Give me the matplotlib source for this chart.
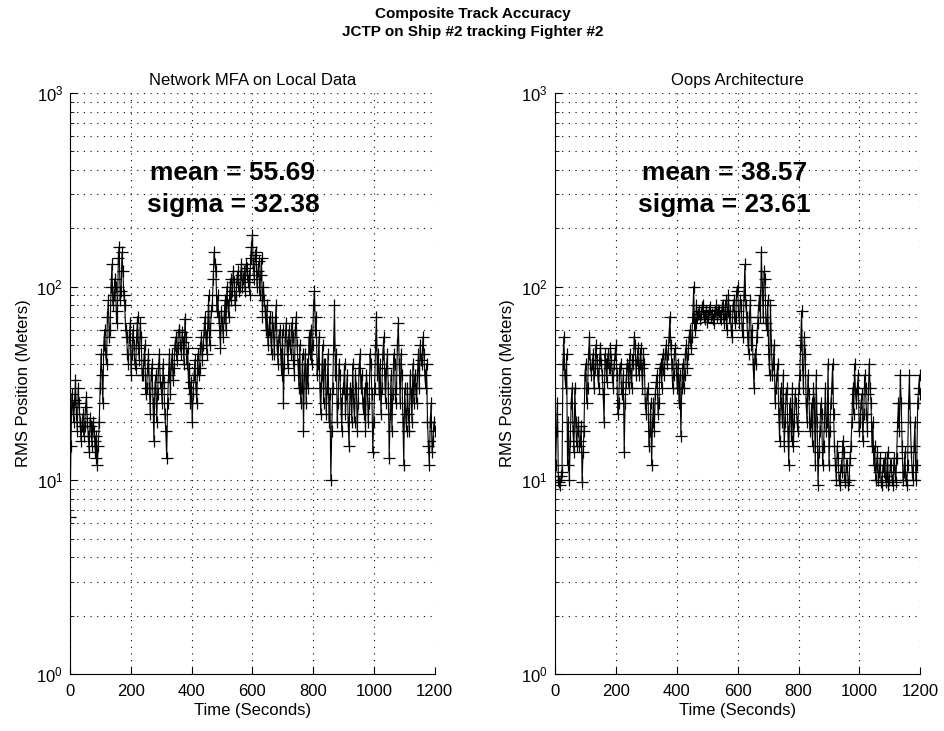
#!/usr/bin/env python3

from matplotlib import pyplot as pl
from matplotlib.ticker import LogLocator

import numpy as np

pl.rcParams['font.family'] = ['Liberation Sans', 'DejaVu Sans']
pl.rcParams['mathtext.fontset'] = 'custom'
pl.rcParams['mathtext.rm'] = 'Liberation Sans'
pl.rcParams['mathtext.default'] = 'regular'

time = np.arange(0, 1201, 3)

# RMS position error, network MFA on local data (one row = 60 s)
mfa = [
    6.5, 15, 28, 24, 20, 26, 33, 22, 18, 30, 25, 20, 16, 19, 22, 17, 19, 24, 27, 20,
    17, 14, 21, 19, 15, 20, 18, 16, 13, 17, 12, 15, 20, 30, 45, 35, 25, 50, 60, 45,
    40, 70, 85, 55, 60, 100, 130, 80, 90, 110, 100, 65, 75, 140, 160, 85, 95, 150, 120, 90,
    80, 60, 55, 45, 40, 55, 65, 35, 45, 60, 50, 40, 38, 55, 70, 48, 42, 65, 55, 35,
    35, 42, 50, 28, 30, 38, 45, 30, 22, 35, 40, 25, 16, 30, 35, 20, 28, 38, 45, 32,
    30, 25, 40, 32, 22, 18, 13, 25, 35, 45, 28, 40, 45, 33, 38, 50, 55, 42, 48, 60,
    60, 50, 45, 58, 52, 40, 68, 55, 40, 48, 30, 38, 25, 32, 20, 28, 35, 42, 30, 25,
    45, 35, 38, 48, 55, 42, 50, 60, 70, 55, 45, 65, 90, 50, 60, 75, 80, 110, 150, 130,
    120, 75, 90, 70, 60, 48, 75, 65, 55, 70, 85, 60, 100, 80, 70, 90, 110, 85, 95, 120,
    105, 80, 90, 110, 120, 95, 100, 115, 130, 100, 110, 120, 95, 130, 125, 105, 115, 90, 140, 160,
    185, 130, 110, 145, 150, 100, 120, 135, 90, 115, 140, 70, 100, 85, 75, 60, 80, 50, 60, 70,
    55, 45, 70, 60, 45, 65, 80, 50, 40, 55, 60, 45, 35, 60, 25, 40, 55, 65, 50, 38,
    60, 50, 45, 65, 55, 42, 35, 60, 70, 50, 40, 30, 50, 25, 30, 45, 18, 35, 45, 25,
    40, 30, 55, 45, 60, 40, 50, 80, 95, 60, 70, 35, 40, 55, 30, 22, 35, 50, 25, 40,
    40, 22, 30, 45, 20, 28, 10, 18, 30, 50, 80, 35, 45, 20, 25, 40, 35, 25, 18, 30,
    30, 40, 22, 28, 35, 20, 15, 30, 28, 20, 40, 25, 20, 35, 30, 18, 25, 38, 45, 30,
    35, 25, 22, 30, 18, 35, 30, 20, 25, 45, 40, 28, 14, 20, 30, 50, 70, 35, 45, 28,
    40, 22, 30, 45, 55, 35, 25, 38, 45, 30, 13, 22, 35, 18, 28, 45, 40, 25, 30, 50,
    65, 40, 25, 45, 35, 20, 12, 30, 22, 18, 30, 22, 18, 35, 28, 20, 40, 25, 35, 30,
    25, 35, 45, 30, 50, 42, 40, 55, 45, 35, 30, 40, 20, 15, 12, 20, 25, 14, 16, 20,
    18,
]

# RMS position error, oops architecture (one row = 60 s)
oops = [
    22, 12, 18, 25, 10, 9.8, 9.5, 10.5, 11, 40, 55, 35, 30, 45, 12, 20, 10, 16, 25, 30,
    18, 14, 30, 20, 15, 18, 20, 15, 16, 19, 9.8, 14, 18, 35, 40, 25, 30, 45, 55, 40,
    35, 40, 45, 30, 38, 50, 42, 35, 30, 42, 48, 40, 35, 28, 20, 45, 40, 32, 45, 38,
    38, 48, 42, 35, 30, 40, 45, 50, 35, 22, 25, 38, 40, 30, 28, 35, 14, 25, 32, 40,
    38, 30, 45, 35, 30, 42, 40, 55, 50, 35, 42, 48, 35, 40, 48, 38, 30, 45, 40, 25,
    22, 28, 30, 15, 18, 25, 12, 20, 25, 18, 28, 32, 35, 22, 25, 38, 40, 30, 45, 35,
    38, 45, 50, 40, 45, 55, 70, 50, 40, 30, 35, 45, 48, 38, 30, 40, 25, 35, 17, 30,
    40, 30, 35, 45, 50, 38, 45, 55, 60, 48, 55, 70, 100, 60, 65, 80, 70, 72, 75, 68,
    72, 78, 80, 70, 68, 74, 75, 66, 70, 76, 78, 70, 72, 68, 65, 75, 80, 72, 70, 76,
    75, 70, 68, 78, 80, 65, 72, 85, 60, 75, 90, 70, 75, 60, 55, 80, 85, 65, 70, 95,
    100, 75, 65, 85, 80, 60, 55, 90, 130, 80, 70, 55, 45, 70, 85, 50, 60, 40, 30, 45,
    40, 55, 65, 80, 90, 70, 150, 100, 70, 120, 110, 65, 60, 85, 45, 35, 80, 50, 35, 40,
    50, 25, 30, 35, 40, 22, 16, 30, 25, 20, 35, 15, 20, 28, 30, 18, 12, 25, 22, 16,
    30, 15, 20, 28, 25, 20, 18, 30, 35, 50, 75, 40, 30, 55, 45, 25, 20, 35, 28, 18,
    20, 25, 15, 30, 25, 12, 35, 20, 9.5, 14, 18, 25, 22, 12, 15, 20, 30, 18, 20, 40,
    12, 18, 25, 30, 40, 22, 15, 12, 10, 15, 13, 10, 9.5, 12, 11, 16, 14, 10, 9.8, 12,
    12, 9.5, 10, 13, 15, 20, 30, 22, 40, 28, 25, 30, 35, 18, 20, 25, 28, 16, 22, 35,
    30, 22, 18, 28, 40, 30, 25, 15, 20, 12, 15, 10, 12, 14, 10, 11, 13, 9.8, 9.5, 12,
    11, 13, 9.8, 10.5, 14, 9.5, 10, 12, 12, 10, 9.5, 13, 11, 9.8, 13, 20, 25, 18, 35, 25,
    15, 10, 11, 14, 10, 9.5, 12, 25, 35, 20, 14, 11, 10, 15, 20, 10, 12, 25, 30, 35,
    28,
]

titles = ['Network MFA on Local Data', 'Oops Architecture']
stats = [('mean = 55.69', 'sigma = 32.38'), ('mean = 38.57', 'sigma = 23.61')]
label_x = [536, 557]

fig = pl.figure(figsize=(9.45, 7.31), dpi=100)
axes = [
        fig.add_axes([0.0741, 0.078, 0.386, 0.795]),
        fig.add_axes([0.587, 0.078, 0.387, 0.795]),
        ]

dots = (0, (1, 5))

for ax, data, title, (mean, sigma), lx in zip(axes, [mfa, oops], titles, stats, label_x):

    ax.semilogy(
                time,
                data,
                color='k',
                linewidth=0.8,
                marker='+',
                markersize=9,
                markeredgewidth=0.9,
                )

    ax.set_xlim(0, 1200)
    ax.set_ylim(1, 1000)
    ax.set_xticks(range(0, 1201, 200))
    ax.yaxis.set_major_locator(LogLocator(base=10, numticks=10))
    ax.yaxis.set_minor_locator(LogLocator(base=10, subs=np.arange(2, 10), numticks=10))

    ax.grid(which='major', axis='x', color='k', linestyle=dots, linewidth=0.8)
    ax.grid(which='both', axis='y', color='k', linestyle=dots, linewidth=0.8)
    ax.set_axisbelow(True)

    ax.spines['top'].set_visible(False)
    ax.spines['right'].set_visible(False)
    ax.tick_params(which='both', direction='in', labelsize=12)
    ax.tick_params(which='major', length=5)
    ax.tick_params(which='minor', length=3)
    ax.tick_params(axis='x', pad=7)
    ax.tick_params(axis='y', pad=5)
    ax.yaxis.set_minor_formatter(pl.NullFormatter())

    ax.set_title(title, fontsize=12, pad=6)
    ax.set_xlabel('Time (Seconds)', fontsize=12, labelpad=3)
    ax.set_ylabel('RMS Position (Meters)', fontsize=12, labelpad=4)

    ax.text(lx, 386, mean, ha='center', va='center', fontsize=19, fontweight='bold')
    ax.text(lx, 264, sigma, ha='center', va='center', fontsize=19, fontweight='bold')

fig.suptitle(
             'Composite Track Accuracy\nJCTP on Ship #2 tracking Fighter #2',
             x=0.5,
             y=0.99,
             fontsize=11,
             fontweight='bold',
             linespacing=1.3,
             )

fig.savefig('out.png', dpi=100)
